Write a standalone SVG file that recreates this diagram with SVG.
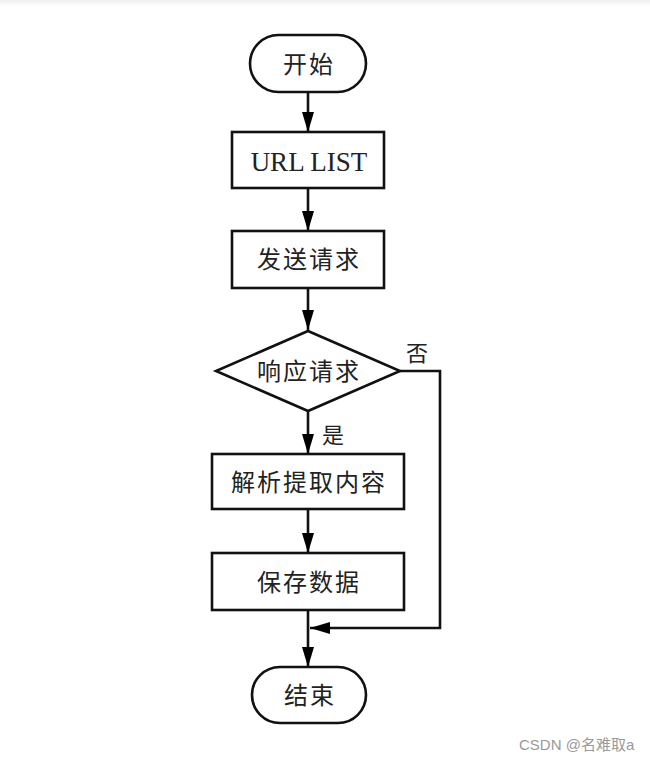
<svg xmlns="http://www.w3.org/2000/svg" width="650" height="761" viewBox="0 0 650 761">
<defs>
<marker id="ah" markerWidth="20" markerHeight="12" refX="20" refY="6" orient="auto" markerUnits="userSpaceOnUse" viewBox="0 0 20 12">
<path d="M0,0 L20,6 L0,12 Z" fill="#000"/>
</marker>
<linearGradient id="topband" x1="0" y1="0" x2="0" y2="1">
<stop offset="0" stop-color="#eeeeee"/>
<stop offset="1" stop-color="#ffffff"/>
</linearGradient>
</defs>
<style>
.shape{fill:#fff;stroke:#111;stroke-width:2.6}
.edge{fill:none;stroke:#111;stroke-width:2.6}
.t{font-family:"Liberation Serif","Noto Sans CJK SC",serif;font-size:24px;fill:#222;text-anchor:middle;letter-spacing:2px}
.lbl{font-family:"Liberation Serif","Noto Sans CJK SC",serif;font-size:22px;fill:#222}
.wm{font-family:"Liberation Sans","Noto Sans CJK SC",sans-serif;font-size:15px;fill:#999}
</style>
<rect x="0" y="0" width="650" height="761" fill="#fff"/>
<rect x="0" y="0" width="650" height="6" fill="url(#topband)"/>

<g id="connectors">
<path class="edge" d="M308,92 V132" marker-end="url(#ah)"/>
<path class="edge" d="M308,188 V231" marker-end="url(#ah)"/>
<path class="edge" d="M308,288 V330" marker-end="url(#ah)"/>
<path class="edge" d="M308,411 V454" marker-end="url(#ah)"/>
<path class="edge" d="M308,509 V553" marker-end="url(#ah)"/>
<path class="edge" d="M308,610 V667" marker-end="url(#ah)"/>
<path class="edge" d="M400,371 H440 V628 H310" marker-end="url(#ah)"/>
<text class="lbl" x="406" y="361">否</text>
<text class="lbl" x="322" y="443">是</text>
</g>

<g id="start">
<rect class="shape" x="250" y="35" width="116" height="57" rx="28.5"/>
<text class="t" x="309" y="73">开始</text>
</g>
<g id="urllist">
<rect class="shape" x="232" y="132" width="152" height="56"/>
<text class="t" x="309" y="171" style="font-size:27px;letter-spacing:0">URL LIST</text>
</g>
<g id="send">
<rect class="shape" x="232" y="231" width="152" height="57"/>
<text class="t" x="309" y="268">发送请求</text>
</g>
<g id="decision">
<polygon class="shape" points="308,331 400,371 308,411 216,371"/>
<text class="t" x="309" y="380">响应请求</text>
</g>
<g id="parse">
<rect class="shape" x="212" y="454" width="192" height="55"/>
<text class="t" x="309" y="491">解析提取内容</text>
</g>
<g id="save">
<rect class="shape" x="212" y="553" width="192" height="57"/>
<text class="t" x="309" y="591">保存数据</text>
</g>
<g id="end">
<rect class="shape" x="252" y="667" width="114" height="56" rx="28"/>
<text class="t" x="310" y="704">结束</text>
</g>
<text class="wm" x="519" y="750">CSDN @名难取a</text>
</svg>
